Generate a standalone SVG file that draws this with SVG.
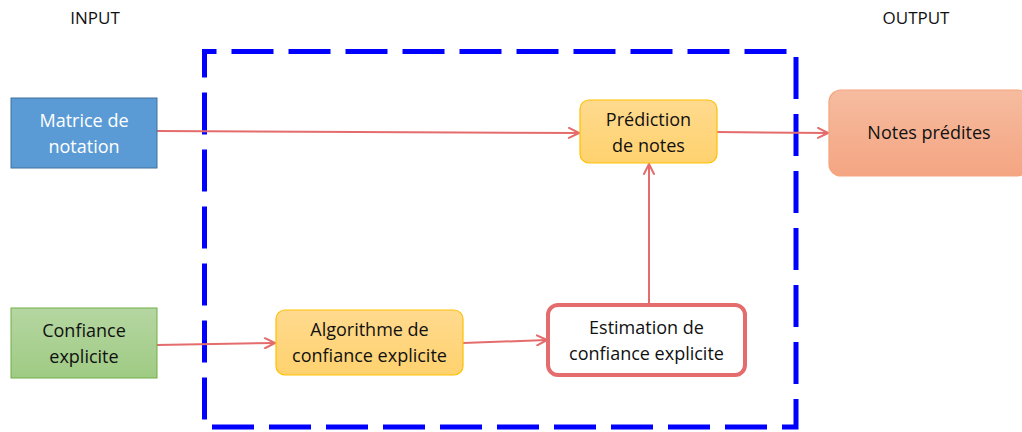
<svg xmlns="http://www.w3.org/2000/svg" width="1022" height="432" viewBox="0 0 1022 432">
  <defs>
    <linearGradient id="gYellow" x1="0" y1="0" x2="0" y2="1">
      <stop offset="0" stop-color="#FFDA8F"/>
      <stop offset="1" stop-color="#FFD26E"/>
    </linearGradient>
    <linearGradient id="gOrange" x1="0" y1="0" x2="0" y2="1">
      <stop offset="0" stop-color="#F6BCA0"/>
      <stop offset="1" stop-color="#F4A582"/>
    </linearGradient>
    <linearGradient id="gGreen" x1="0" y1="0" x2="0" y2="1">
      <stop offset="0" stop-color="#B5D6A1"/>
      <stop offset="1" stop-color="#9FCB84"/>
    </linearGradient>
    <marker id="arrow" viewBox="0 0 12 12" refX="11" refY="6" markerWidth="12" markerHeight="12" markerUnits="userSpaceOnUse" orient="auto">
      <path d="M1,1 L11,6 L1,11" fill="none" stroke="#E46C6C" stroke-width="2" stroke-linecap="round" stroke-linejoin="round"/>
    </marker>
  </defs>
  <style>
    text { font-family: "Open Sans", "Liberation Sans", sans-serif; font-size: 18px; fill: #111111; text-anchor: middle; }
    .hdr { font-size: 17px; }
    .light { fill: #ffffff; }
    .conn { fill: none; stroke: #E46C6C; stroke-width: 2; marker-end: url(#arrow); }
    .yellow { fill: url(#gYellow); stroke: #FFC000; stroke-width: 1.2; }
  </style>
  <rect width="1022" height="432" fill="#ffffff"/>

  <text class="hdr" x="95" y="24">INPUT</text>
  <text class="hdr" x="916" y="24">OUTPUT</text>

  <!-- system boundary -->
  <rect id="boundary" x="204.5" y="51.5" width="591.5" height="375.5" fill="none" stroke="#0000FF" stroke-width="5" stroke-dasharray="42 15" stroke-dashoffset="-27"/>

  <g id="connectors">
    <path class="conn" d="M157,131 L579,133"/>
    <path class="conn" d="M717,132 L828,133"/>
    <path class="conn" d="M157,345 L275,343"/>
    <path class="conn" d="M463,343 L547,340"/>
    <path class="conn" d="M649,304 L649,164"/>
  </g>

  <g id="matrice">
    <rect x="11" y="98" width="146" height="70" fill="#5B9BD5" stroke="#41719C" stroke-width="1"/>
    <text class="light" x="84" y="127">Matrice de</text>
    <text class="light" x="84" y="153">notation</text>
  </g>

  <g id="confiance">
    <rect x="11" y="308" width="146" height="70" fill="url(#gGreen)" stroke="#70AD47" stroke-width="1"/>
    <text x="84" y="337">Confiance</text>
    <text x="84" y="363">explicite</text>
  </g>

  <g id="prediction">
    <rect class="yellow" x="580" y="100" width="137" height="63" rx="9"/>
    <text x="648.5" y="126">Prédiction</text>
    <text x="648.5" y="152">de notes</text>
  </g>

  <g id="notes">
    <rect x="829" y="90" width="200" height="86" rx="12" fill="url(#gOrange)" stroke="#F4A47A" stroke-width="1.2"/>
    <text x="929" y="139">Notes prédites</text>
  </g>

  <g id="algorithme">
    <rect class="yellow" x="276" y="310" width="187" height="65" rx="9"/>
    <text x="369.5" y="336">Algorithme de</text>
    <text x="369.5" y="362">confiance explicite</text>
  </g>

  <g id="estimation">
    <rect x="548" y="305" width="197" height="70" rx="10" fill="#ffffff" stroke="#E46C6C" stroke-width="4"/>
    <text x="646.5" y="334">Estimation de</text>
    <text x="646.5" y="360">confiance explicite</text>
  </g>
</svg>
